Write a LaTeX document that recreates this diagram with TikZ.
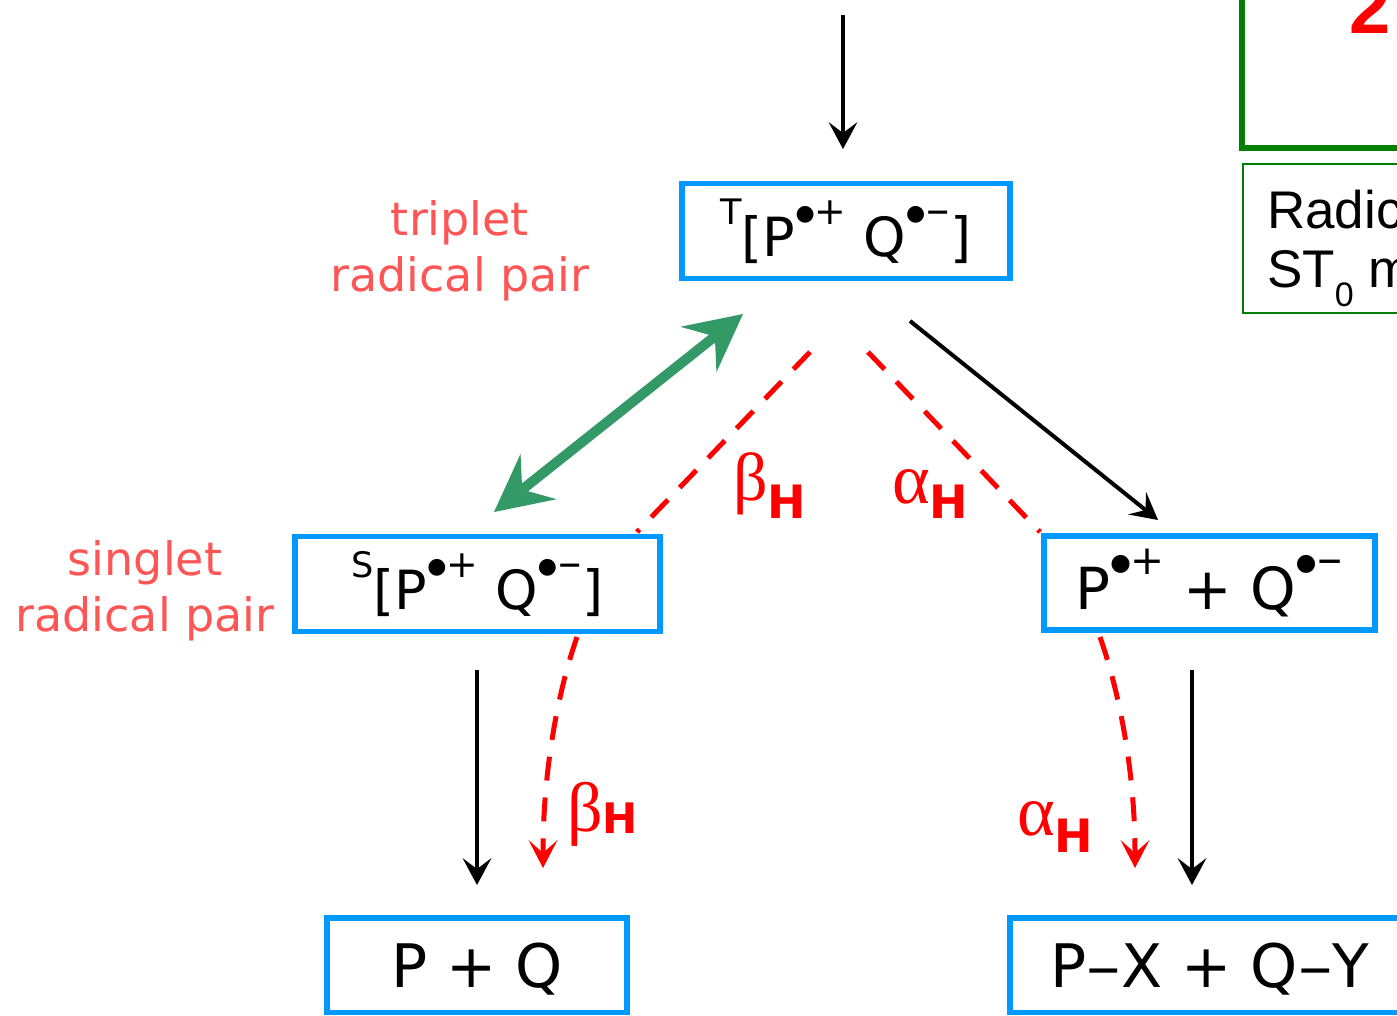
\documentclass[tikz,border=0pt]{standalone}
\usepackage{fontspec}
\setmainfont{DejaVu Sans}
\newfontfamily\grkfont{Liberation Serif}
\newfontfamily\arialfont{Liberation Sans}
\usetikzlibrary{arrows.meta,calc}
\definecolor{boxblue}{RGB}{0,153,255}
\definecolor{pairred}{RGB}{255,85,85}
\definecolor{mixgreen}{RGB}{51,153,102}
\definecolor{dkgreen}{RGB}{0,128,0}
\newcommand\rad[1]{\raisebox{0.6em}{\scalebox{0.7}{\raisebox{0.1em}{\scalebox{0.58}{●}}#1}}}
\newcommand\radminus{\scalebox{0.8}[1]{−}}
\newcommand\bond{\scalebox{1.15}[1]{–}}
\newcommand\spin[1]{\raisebox{0.6em}{\scalebox{0.65}{#1}}}
\newcommand\glab[4]{{\grkfont\fontsize{#2}{#2}\selectfont #1}\raisebox{-#4}{\fontsize{#3}{#3}\selectfont\bfseries H}}
\begin{document}
\begin{tikzpicture}[x=1pt,y=-1pt,
  box/.style={draw=boxblue,line width=5.5pt,inner sep=0pt,outer sep=0pt,text=black},
  pairlabel/.style={text=pairred,align=center,font=\fontsize{46}{56}\selectfont,inner sep=0pt},
  glabel/.style={text=red,inner sep=0pt,anchor=base west},
  flow/.style={draw=black,line width=4pt,-{Stealth[length=27pt,width=29pt,inset=11pt,line width=0pt]}},
  hfc/.style={draw=red,line width=5pt,dash pattern=on 24pt off 17pt},
  hfcarrow/.style={hfc,-{Stealth[length=28pt,width=29pt,inset=13pt,line width=0pt]}},
  mix/.style={draw=mixgreen,line width=10pt,{Stealth[length=57pt,width=58pt,inset=21pt,line width=0pt]}-{Stealth[length=57pt,width=58pt,inset=21pt,line width=0pt]}}
]
\clip (0,0) rectangle (1397,1015);

% green boxes (top right)
\node[draw=dkgreen,line width=6pt,minimum width=200pt,minimum height=200pt,inner sep=0pt] (gb) at (1342,47.5) {};
\node[text=red,inner sep=0pt,anchor=base,font=\arialfont\bfseries\fontsize{74}{74}\selectfont] (two) at (1370,33) {2};
\node[draw=dkgreen,line width=2pt,minimum width=200pt,minimum height=149pt,inner sep=0pt] (rb) at (1343,238.5) {};
\node[anchor=base west,inner sep=0pt,font=\arialfont\fontsize{53}{53}\selectfont] (rt1) at (1267,228) {Radic};
\node[anchor=base west,inner sep=0pt,font=\arialfont\fontsize{53}{53}\selectfont] (rt2) at (1267,287) {ST\raisebox{-19pt}{\fontsize{34}{34}\selectfont 0} m};

% labels
\node[pairlabel] (lt) at (460,251) {triplet\\radical pair};
\node[pairlabel] (ls) at (145,591) {singlet\\radical pair};

% boxes
\node[box,minimum width=328pt,minimum height=95pt,font=\fontsize{54}{54}\selectfont] (T) at (846,231) {\spin{T}[P\rad{+} Q\rad{\radminus}]};
\node[box,minimum width=365pt,minimum height=95pt,font=\fontsize{54}{54}\selectfont] (S) at (477.5,584.2) {\spin{S}[P\rad{+} Q\rad{\radminus}]};
\node[box,minimum width=331pt,minimum height=94pt,font=\fontsize{58}{58}\selectfont] (R) at (1209.5,583) {P\rad{+} + Q\rad{\radminus}};
\node[box,minimum width=300pt,minimum height=94.5pt,text height=44pt,text depth=-6.5pt,font=\fontsize{60}{60}\selectfont] (A) at (477,965.25) {P + Q};
\node[box,minimum width=400pt,minimum height=94.5pt,text height=44pt,text depth=-6.5pt,font=\fontsize{60}{60}\selectfont] (B) at (1210,965.25) {P\bond X + Q\bond Y};

% incoming arrow
\coordinate (in) at (843,15);
\draw[flow] (in) -- ($(T.north)+(-3,-34.5)$);

% T -> free radicals
\draw[flow] ($(T.south)+(64,42.5)$) -- ($(R.north)+(-51.5,-16)$);

% singlet-triplet mixing
\draw[mix] ($(S.north)+(16.5,-24.7)$) -- ($(T.south)+(-103,35.5)$);

% hyperfine dashed lines
\draw[hfc] ($(T.south)+(-36,73.5)$) -- ($(S.north east)+(-23,-4.7)$);
\draw[hfc] ($(T.south)+(22,73.5)$) -- ($(R.north west)+(-4,-4)$);

% vertical product arrows
\draw[flow] ($(S.south)+(-0.5,38.3)$) -- ($(A.north)+(0,-33)$);
\draw[flow] ($(R.south)+(-17.5,40)$) -- ($(B.north)+(-18,-33)$);

% curved dashed arrows
\draw[hfcarrow] ($(S.south)+(99.5,5.3)$) .. controls +(-22,63) and +(0,-88) .. ($(A.north)+(66,-50)$);
\draw[hfcarrow] ($(R.south)+(-109.5,7)$) .. controls +(22,63) and +(0,-88) .. ($(B.north)+(-75,-50)$);

% greek labels
\node[glabel] (gb1) at (733,500) {\glab{β}{68}{46}{18pt}};
\node[glabel] (ga1) at (892,503) {\glab{α}{72}{46}{15pt}};
\node[glabel] (gb2) at (567,831) {\glab{β}{70}{42}{2pt}};
\node[glabel] (ga2) at (1017,835) {\glab{α}{72}{46}{17pt}};
\end{tikzpicture}
\end{document}
